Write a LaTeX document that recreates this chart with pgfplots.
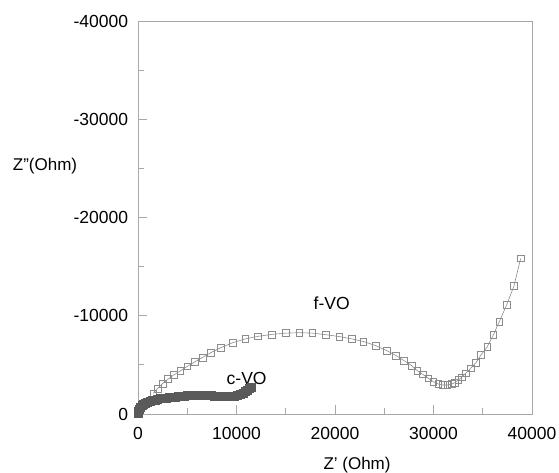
\documentclass[border=0pt]{standalone}
\usepackage{pgfplots}
\pgfplotsset{compat=1.18}
\usepackage{fontspec}
\setmainfont{Liberation Sans}
\definecolor{axgray}{HTML}{A8A8A8}
\definecolor{fgray}{HTML}{8C8C8C}
\definecolor{cgray}{HTML}{5A5A5A}
\begin{document}
\fontsize{17}{20}\selectfont
\begin{tikzpicture}
\begin{axis}[
  scale only axis,
  width=394pt, height=393pt,
  xmin=0, xmax=40000,
  ymin=-40000, ymax=0,
  y dir=reverse,
  scaled ticks=false,
  axis line style={axgray, line width=0.9pt},
  tick style={axgray, line width=0.9pt},
  tick pos=left,
  tick align=inside,
  major tick length=9pt,
  minor tick length=6pt,
  minor tick num=1,
  xtick={0,10000,20000,30000,40000},
  xticklabels={0,10000,20000,30000,40000},
  ytick={-40000,-30000,-20000,-10000,0},
  yticklabels={-40000,-30000,-20000,-10000,0},
  ticklabel style={font=\fontsize{17.5}{20}\selectfont, text=black},
  yticklabel style={xshift=-4pt},
  xticklabel style={yshift=-7pt},
  xlabel={Z' (Ohm)},
  ylabel={Z''(Ohm)},
  label style={font=\fontsize{17.5}{20}\selectfont},
  every axis x label/.style={at={(axis description cs:0.556,-0.130)}, anchor=center},
  every axis y label/.style={at={(axis description cs:-0.236,0.631)}, anchor=center, rotate=0},
  clip=false,
]
\addplot[fgray, line width=0.6pt, mark=square, mark size=3.4pt, mark options={fill=white, draw=fgray, line width=0.6pt}] coordinates {
(1560,-2100)
(2000,-2600) (2500,-3100) (3050,-3550) (3600,-3950) (4300,-4400)
(5000,-4850) (5750,-5300) (6550,-5750) (7400,-6250) (8400,-6750)
(9600,-7250) (10900,-7650) (12150,-7900) (13550,-8100) (15030,-8230)
(16380,-8280) (17700,-8230) (19090,-8070) (20440,-7880) (21690,-7650)
(22880,-7380) (24160,-6950) (25250,-6450) (26190,-5950) (27010,-5430)
(27780,-4920) (28360,-4410) (28900,-4040) (29480,-3630) (29980,-3290)
(30490,-3050) (30930,-2950) (31400,-2950) (31850,-3050) (32180,-3190)
(32520,-3460) (32860,-3730) (33270,-4140) (33770,-4650) (34310,-5220)
(34820,-6000) (35460,-6850) (36070,-8040) (36680,-9390) (37420,-11090)
(38170,-13030) (38850,-15840)
};
\addplot[cgray, only marks, mark=square*, mark size=4pt, mark options={fill=cgray, draw=cgray}] coordinates {
(0,-100) (60,-300) (150,-500) (260,-680) (400,-850) (560,-990)
(750,-1110) (960,-1200) (1200,-1280) (1450,-1370) (1720,-1450)
(2000,-1510) (2300,-1560) (2600,-1610) (2900,-1650) (3200,-1690)
(3500,-1720) (3800,-1750) (4100,-1780) (4400,-1810) (4700,-1840)
(5000,-1870) (5300,-1890) (5600,-1910) (5900,-1920) (6200,-1930)
(6500,-1930) (6800,-1920) (7100,-1900) (7400,-1880) (7700,-1860)
(8000,-1840) (8300,-1820) (8600,-1800) (8900,-1790) (9200,-1790)
(9500,-1800) (9800,-1830) (10100,-1890) (10400,-1990) (10650,-2120)
(10900,-2290) (11100,-2450) (11300,-2610) (11450,-2740)
};
\node[font=\fontsize{17.5}{20}\selectfont] at (axis cs:19660,-11290) {f-VO};
\node[font=\fontsize{17.5}{20}\selectfont] at (axis cs:11030,-3630) {c-VO};
\end{axis}
\pgfresetboundingbox
\path (current axis.south west) ++(-138pt,-59pt) rectangle ++(559pt,473pt);
\end{tikzpicture}
\end{document}
